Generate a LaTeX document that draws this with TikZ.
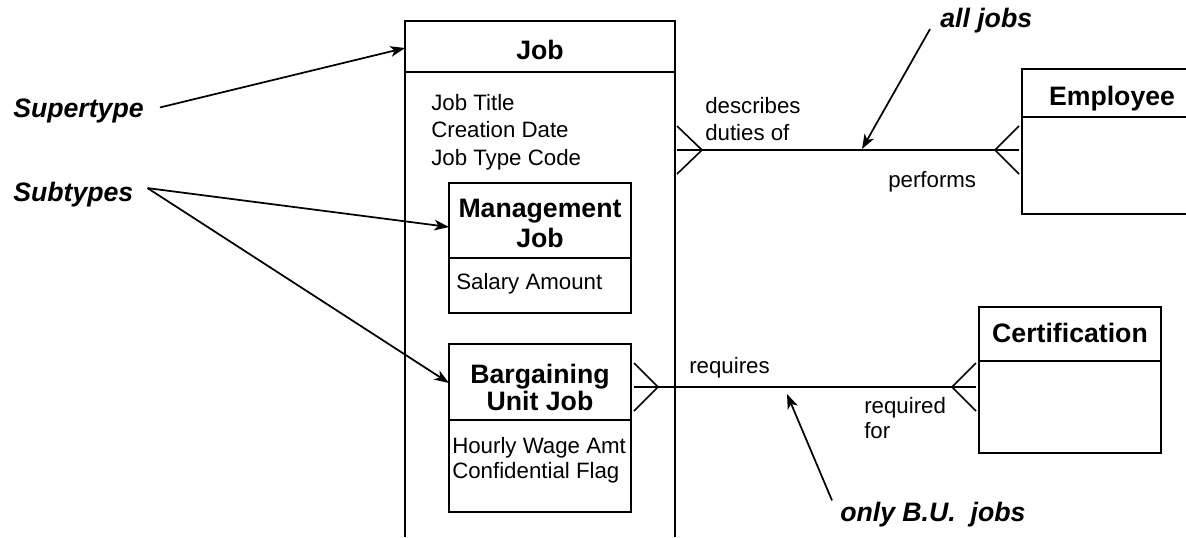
\documentclass[tikz,border=0pt]{standalone}
\usepackage{fontspec}
\setmainfont{Liberation Sans}
\usetikzlibrary{arrows.meta,calc}
\begin{document}
\begin{tikzpicture}[x=0.75pt,y=-0.75pt,
  boxline/.style={line width=1.5pt},
  rel/.style={line width=1.2pt},
  note/.style={line width=1.3pt,-{Stealth[length=11pt,width=8pt,inset=3pt]}},
  ent/.style={inner sep=0pt,outer sep=0pt,draw=none},
  attr/.style={inner sep=0pt,anchor=base west,font=\fontsize{16.7}{20}\selectfont},
  hdr/.style={inner sep=0pt,anchor=base,font=\bfseries\fontsize{20}{24}\selectfont},
  anno/.style={inner sep=0pt,anchor=base west,font=\bfseries\itshape\fontsize{20}{24}\selectfont}]
\useasboundingbox (0,0) rectangle (1186,537);

% entity frames
\node[ent,minimum width=202.5pt,minimum height=387pt] (job) at (540,279) {};
\node[ent,minimum width=133.5pt,minimum height=108.75pt] (emp) at (1111,141.5) {};
\node[ent,minimum width=136.5pt,minimum height=109.5pt] (cert) at (1070,380) {};
\node[ent,minimum width=136.5pt,minimum height=97.5pt] (mgmt) at (540,248) {};
\node[ent,minimum width=136.5pt,minimum height=126pt] (barg) at (540,428) {};

\draw[boxline] (job.south west) -- (job.north west) -- (job.north east) -- (job.south east);
\draw[boxline] ($(job.north west)+(0,51)$) -- ($(job.north east)+(0,51)$);
\draw[boxline] (emp.north east) -- (emp.north west) -- (emp.south west) -- (emp.south east);
\draw[boxline] ($(emp.north west)+(0,48)$) -- ($(emp.north east)+(0,48)$);
\draw[boxline] (cert.north west) rectangle (cert.south east);
\draw[boxline] ($(cert.north west)+(0,54)$) -- ($(cert.north east)+(0,54)$);
\draw[boxline] (mgmt.north west) rectangle (mgmt.south east);
\draw[boxline] ($(mgmt.north west)+(0,75)$) -- ($(mgmt.north east)+(0,75)$);
\draw[boxline] (barg.north west) rectangle (barg.south east);
\draw[boxline] ($(barg.north west)+(0,76)$) -- ($(barg.north east)+(0,76)$);

% texts
\node[hdr] (jobT) at (540,59) {Job};
\node[attr] (a1) at (431,110) {Job Title};
\node[attr] (a2) at (431,137) {Creation Date};
\node[attr] (a3) at (431,165) {Job Type Code};
\node[hdr] (mT1) at (540,217) {Management};
\node[hdr] (mT2) at (540,247) {Job};
\node[attr] (ma) at (456,289) {Salary Amount};
\node[hdr] (bT1) at (540,383) {Bargaining};
\node[hdr] (bT2) at (540,410) {Unit Job};
\node[attr] (ba1) at (452,453) {Hourly Wage Amt};
\node[attr] (ba2) at (452,478) {Confidential Flag};
\node[hdr] (eT) at (1112,105) {Employee};
\node[hdr] (cT) at (1070,342) {Certification};

\node[attr] (l1) at (705,113) {describes};
\node[attr] (l2) at (705,140) {duties of};
\node[attr] (l3) at (888,187) {performs};
\node[attr] (l4) at (689,373) {requires};
\node[attr] (l5) at (864,413) {required};
\node[attr] (l6) at (864,438) {for};

\node[anno] (sup) at (13,117) {Supertype};
\node[anno] (sub) at (13,201) {Subtypes};
\node[anno] (all) at (940,27) {all jobs};
\node[anno] (bu) at (840,521) {only B.U.\ \ jobs};

% relationships
\coordinate (r1) at (0,150);
\coordinate (r2) at (0,387);
\draw[rel] ($(job.east |- r1)+(2,0)$) -- ($(emp.west |- r1)+(-3,0)$);
\draw[rel] ($(job.east |- r1)+(2,-24)$) -- ($(job.east |- r1)+(27,0)$) -- ($(job.east |- r1)+(2,24)$);
\draw[rel] ($(emp.west |- r1)+(-3,-24)$) -- ($(emp.west |- r1)+(-27,0)$) -- ($(emp.west |- r1)+(-3,24)$);

\draw[rel] ($(barg.east |- r2)+(3,0)$) -- ($(cert.west |- r2)+(-3,0)$);
\draw[rel] ($(barg.east |- r2)+(3,-24)$) -- ($(barg.east |- r2)+(27,0)$) -- ($(barg.east |- r2)+(3,24)$);
\draw[rel] ($(cert.west |- r2)+(-3,-24)$) -- ($(cert.west |- r2)+(-27,0)$) -- ($(cert.west |- r2)+(-3,24)$);

% annotation arrows
\coordinate (p1) at (862,149);
\coordinate (p2) at (787,394);
\draw[note] ($(sup.east)+(16,-3)$) -- ($(job.north west)+(0,27)$);
\draw[note] ($(sub.east)+(14,-6)$) -- ($(mgmt.north west)+(0,44)$);
\draw[note] ($(sub.east)+(14,-6)$) -- ($(barg.north west)+(0,39)$);
\draw[note] ($(all.west)+(-10,9)$) -- (p1);
\draw[note] ($(bu.north west)+(-8,-1)$) -- (p2);
\end{tikzpicture}
\end{document}
